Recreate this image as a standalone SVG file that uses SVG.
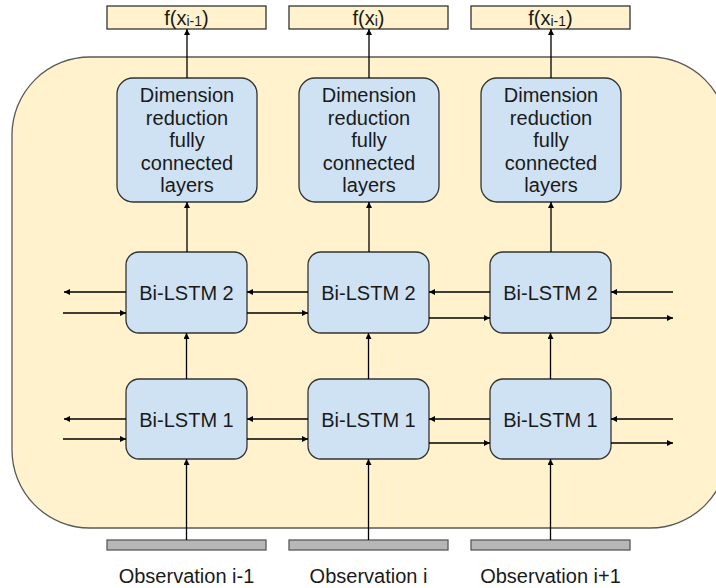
<svg xmlns="http://www.w3.org/2000/svg" width="716" height="588" viewBox="0 0 716 588">
<defs>
<style>
.outer{fill:#fff2cc;stroke:#595959;stroke-width:1.3}
.out{fill:#fff2cc;stroke:#333;stroke-width:1.3}
.blue{fill:#cfe2f3;stroke:#333;stroke-width:1.3}
.bar{fill:#b7b7b7;stroke:#595959;stroke-width:1.3}
text{font-family:"Liberation Sans",Arial,sans-serif;font-size:20px;fill:#1a1a1a;text-anchor:middle}
.sub{font-size:14px}
.c path{fill:none;stroke:#000;stroke-width:1.3;marker-end:url(#ah)}
</style>
<marker id="ah" viewBox="0 0 10 10" refX="10" refY="5" markerWidth="6" markerHeight="6" markerUnits="userSpaceOnUse" orient="auto">
<path d="M0,0 L10,5 L0,10 z" fill="#000"/>
</marker>
</defs>
<rect id="container" class="outer" x="12" y="57" width="716" height="471" rx="78" ry="78"/>

<g id="out1"><rect class="out" x="107" y="6" width="159" height="23"/><text x="186.5" y="25">f(x<tspan class="sub" dy="0.5">i-1</tspan><tspan dy="-0.5">)</tspan></text></g>
<g id="out2"><rect class="out" x="289" y="6" width="159" height="23"/><text x="368.5" y="25">f(x<tspan class="sub" dy="0.5">i</tspan><tspan dy="-0.5">)</tspan></text></g>
<g id="out3"><rect class="out" x="471" y="6" width="159" height="23"/><text x="550.5" y="25">f(x<tspan class="sub" dy="0.5">i-1</tspan><tspan dy="-0.5">)</tspan></text></g>

<g id="dim1"><rect class="blue" x="117" y="78" width="140" height="124" rx="16"/>
<text x="187" y="102">Dimension</text><text x="187" y="124.5">reduction</text><text x="187" y="147">fully</text><text x="187" y="169.5">connected</text><text x="187" y="192">layers</text></g>
<g id="dim2"><rect class="blue" x="299" y="78" width="140" height="124" rx="16"/>
<text x="369" y="102">Dimension</text><text x="369" y="124.5">reduction</text><text x="369" y="147">fully</text><text x="369" y="169.5">connected</text><text x="369" y="192">layers</text></g>
<g id="dim3"><rect class="blue" x="481" y="78" width="140" height="124" rx="16"/>
<text x="551" y="102">Dimension</text><text x="551" y="124.5">reduction</text><text x="551" y="147">fully</text><text x="551" y="169.5">connected</text><text x="551" y="192">layers</text></g>

<g id="lstm2a"><rect class="blue" x="126" y="252" width="121" height="81" rx="13"/><text x="186.5" y="299.5">Bi-LSTM 2</text></g>
<g id="lstm2b"><rect class="blue" x="308" y="252" width="121" height="81" rx="13"/><text x="368.5" y="299.5">Bi-LSTM 2</text></g>
<g id="lstm2c"><rect class="blue" x="490" y="252" width="121" height="81" rx="13"/><text x="550.5" y="299.5">Bi-LSTM 2</text></g>

<g id="lstm1a"><rect class="blue" x="126" y="379" width="121" height="80" rx="13"/><text x="186.5" y="426.5">Bi-LSTM 1</text></g>
<g id="lstm1b"><rect class="blue" x="308" y="379" width="121" height="80" rx="13"/><text x="368.5" y="426.5">Bi-LSTM 1</text></g>
<g id="lstm1c"><rect class="blue" x="490" y="379" width="121" height="80" rx="13"/><text x="550.5" y="426.5">Bi-LSTM 1</text></g>

<g id="obs1"><rect class="bar" x="107" y="540" width="159" height="10"/><text x="186.5" y="583">Observation i-1</text></g>
<g id="obs2"><rect class="bar" x="289" y="540" width="159" height="10"/><text x="368.5" y="583">Observation i</text></g>
<g id="obs3"><rect class="bar" x="471" y="540" width="159" height="10"/><text x="550.5" y="583">Observation i+1</text></g>

<g id="connectors" class="c">
<path d="M187,78 V29"/><path d="M369,78 V29"/><path d="M551,78 V29"/>
<path d="M187,252 V202"/><path d="M369,252 V202"/><path d="M551,252 V202"/>
<path d="M186.5,379 V333"/><path d="M368.5,379 V333"/><path d="M550.5,379 V333"/>
<path d="M186.5,540 V459"/><path d="M368.5,540 V459"/><path d="M550.5,540 V459"/>

<path d="M126,292 H64"/><path d="M63,313 H126"/>
<path d="M308,292 H247"/><path d="M247,313 H308"/>
<path d="M490,292 H429"/><path d="M429,318 H490"/>
<path d="M673,292 H611"/><path d="M611,318 H673"/>

<path d="M126,419 H64"/><path d="M63,439 H126"/>
<path d="M308,419 H247"/><path d="M247,439 H308"/>
<path d="M490,419 H429"/><path d="M429,443 H490"/>
<path d="M673,419 H611"/><path d="M611,443 H673"/>
</g>
</svg>
